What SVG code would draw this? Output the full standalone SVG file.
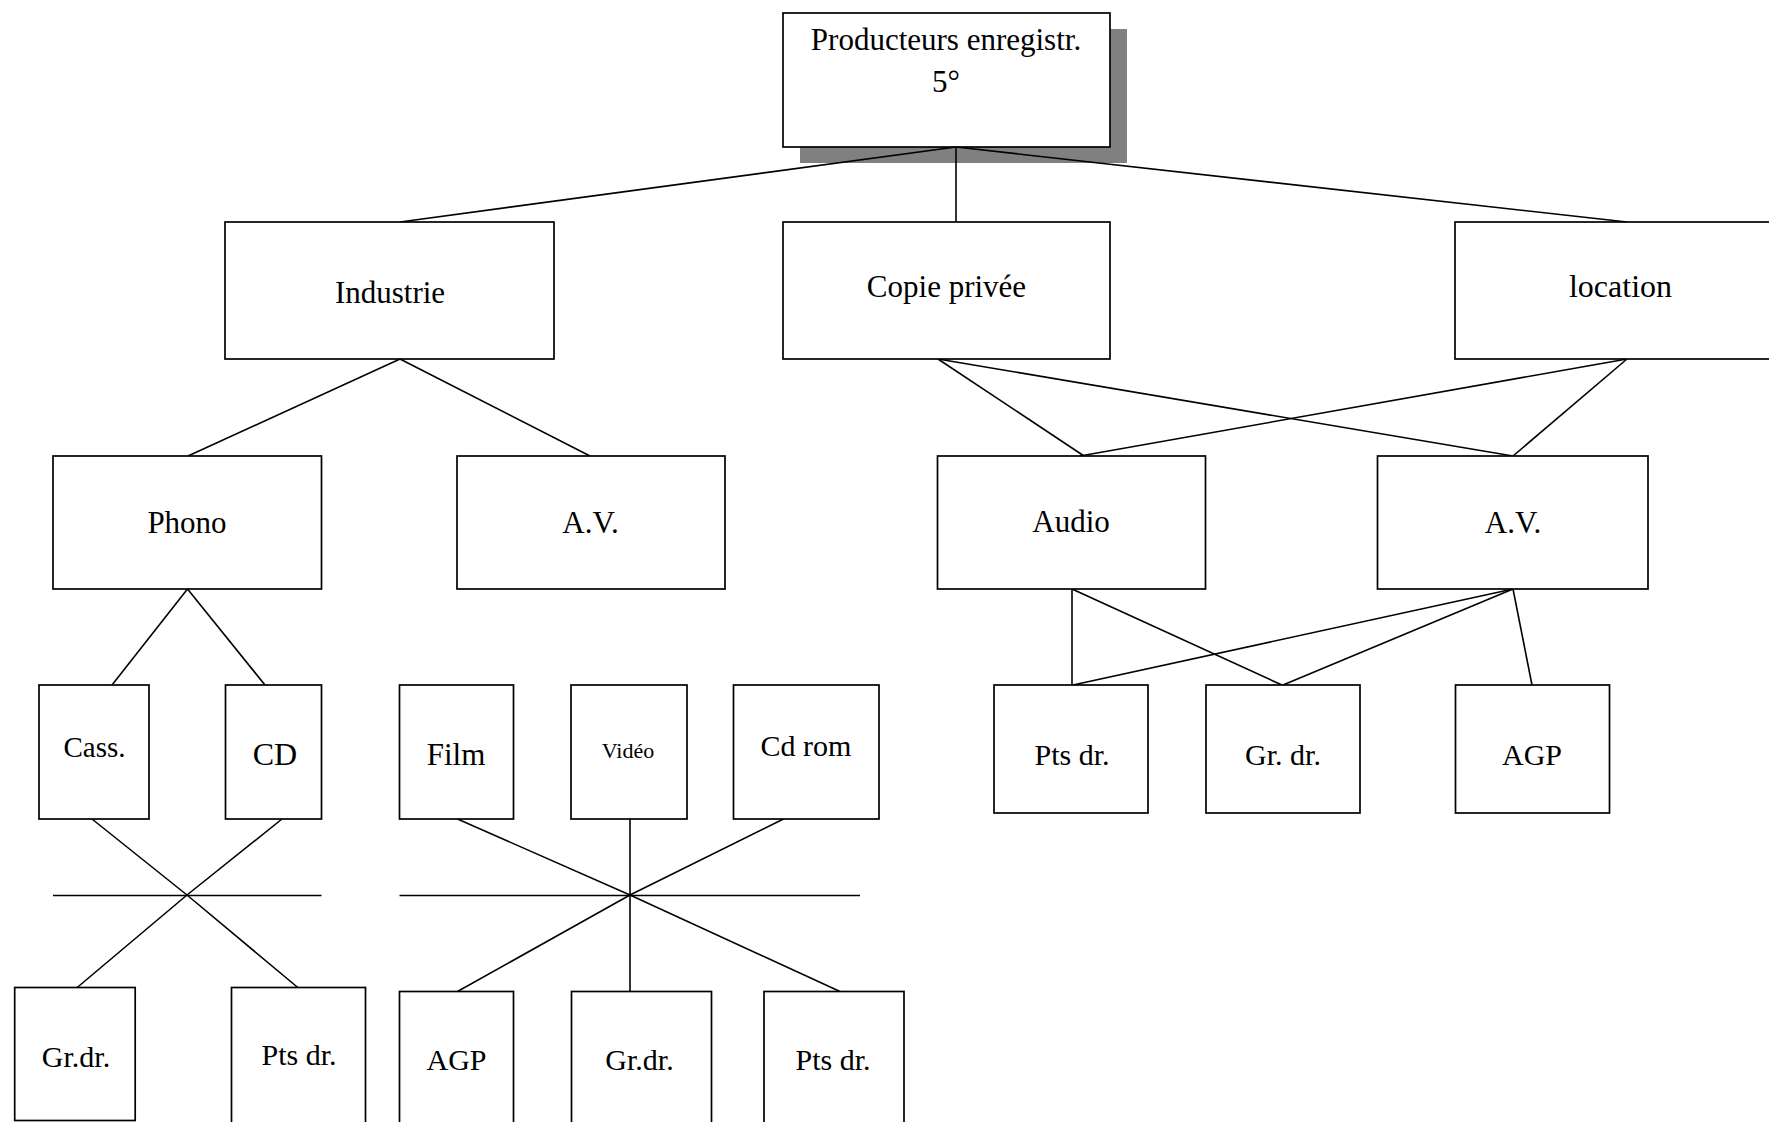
<svg xmlns="http://www.w3.org/2000/svg" width="1769" height="1122" viewBox="0 0 1769 1122">
<style>
.box{fill:#fff;stroke:#000;stroke-width:1.7}
.shadow{fill:#808080;stroke:none}
.lbl{font-family:"Liberation Serif","Times New Roman",serif;font-size:31px;fill:#000;text-anchor:middle}
.conn line,.conn polyline{stroke:#000;stroke-width:1.6;fill:none}
</style>
<rect width="1769" height="1122" fill="#fff"/>
<g id="producteurs">
<rect class="shadow" x="800" y="29" width="327" height="134"/>
<rect class="box" x="783" y="13" width="327" height="134"/>
<text class="lbl" x="946" y="50">Producteurs enregistr.</text>
<text class="lbl" x="946" y="92">5°</text>
</g>
<g id="connectors" class="conn">
<line x1="956" y1="147" x2="400" y2="222"/>
<line x1="956" y1="147" x2="956" y2="222"/>
<line x1="956" y1="147" x2="1627" y2="222"/>
<line x1="400" y1="359" x2="188" y2="456"/>
<line x1="400" y1="359" x2="590" y2="456"/>
<line x1="938" y1="359" x2="1084" y2="456"/>
<line x1="938" y1="359" x2="1513" y2="456"/>
<line x1="1627" y1="359" x2="1080" y2="456"/>
<line x1="1627" y1="359" x2="1513" y2="456"/>
<line x1="187.5" y1="589" x2="112" y2="685"/>
<line x1="187.5" y1="589" x2="265" y2="685"/>
<line x1="1072" y1="589" x2="1072" y2="685"/>
<line x1="1072" y1="589" x2="1282" y2="685"/>
<line x1="1513" y1="589" x2="1073" y2="685"/>
<line x1="1513" y1="589" x2="1283" y2="685"/>
<line x1="1513" y1="589" x2="1532" y2="685"/>
<polyline points="92,819 187,895 302,991"/>
<polyline points="282,819 187,895 73,991"/>
<line x1="53" y1="895.5" x2="321.5" y2="895.5"/>
<line x1="399.5" y1="895.5" x2="860" y2="895.5"/>
<polyline points="457.5,819 630,895 840,991.5"/>
<line x1="630" y1="819" x2="630" y2="991.5"/>
<polyline points="783.5,819 630,895 457.5,991.5"/>
</g>
<g id="industrie"><rect class="box" x="225" y="222" width="329" height="137"/><text class="lbl" x="390" y="303">Industrie</text></g>
<g id="copie-privee"><rect class="box" x="783" y="222" width="327" height="137"/><text class="lbl" x="946.5" y="297">Copie privée</text></g>
<g id="location"><rect class="box" x="1455" y="222" width="330" height="137"/><text class="lbl" x="1620.5" y="297" style="font-size:32px">location</text></g>
<g id="phono"><rect class="box" x="53" y="456" width="268.5" height="133"/><text class="lbl" x="187" y="533">Phono</text></g>
<g id="av-industrie"><rect class="box" x="457" y="456" width="268" height="133"/><text class="lbl" x="590.5" y="533">A.V.</text></g>
<g id="audio"><rect class="box" x="937.5" y="456" width="268" height="133"/><text class="lbl" x="1071" y="532">Audio</text></g>
<g id="av-copie"><rect class="box" x="1377.5" y="456" width="270.5" height="133"/><text class="lbl" x="1513" y="533">A.V.</text></g>
<g id="cass"><rect class="box" x="39" y="685" width="110" height="134"/><text class="lbl" x="94.5" y="757" style="font-size:29px">Cass.</text></g>
<g id="cd"><rect class="box" x="225.5" y="685" width="96" height="134"/><text class="lbl" x="275" y="765" style="font-size:32px">CD</text></g>
<g id="film"><rect class="box" x="399.5" y="685" width="114" height="134"/><text class="lbl" x="456" y="765">Film</text></g>
<g id="video"><rect class="box" x="571" y="685" width="116" height="134"/><text class="lbl" x="628" y="758" style="font-size:22px">Vidéo</text></g>
<g id="cdrom"><rect class="box" x="733.5" y="685" width="145.5" height="134"/><text class="lbl" x="806" y="756" style="font-size:30px">Cd rom</text></g>
<g id="pts-dr-cp"><rect class="box" x="994" y="685" width="154" height="128"/><text class="lbl" x="1072" y="765" style="font-size:30px">Pts dr.</text></g>
<g id="gr-dr-cp"><rect class="box" x="1206" y="685" width="154" height="128"/><text class="lbl" x="1283" y="765" style="font-size:30px">Gr. dr.</text></g>
<g id="agp-cp"><rect class="box" x="1455.5" y="685" width="154" height="128"/><text class="lbl" x="1532" y="765" style="font-size:30px">AGP</text></g>
<g id="gr-dr-phono"><rect class="box" x="14.7" y="987.5" width="120.5" height="133"/><text class="lbl" x="76" y="1067" style="font-size:30px">Gr.dr.</text></g>
<g id="pts-dr-phono"><rect class="box" x="231.5" y="987.5" width="134" height="145"/><text class="lbl" x="299" y="1065" style="font-size:30px">Pts dr.</text></g>
<g id="agp-av"><rect class="box" x="399.5" y="991.5" width="114" height="145"/><text class="lbl" x="456.5" y="1070" style="font-size:30px">AGP</text></g>
<g id="gr-dr-av"><rect class="box" x="571.5" y="991.5" width="140" height="145"/><text class="lbl" x="639.5" y="1070" style="font-size:30px">Gr.dr.</text></g>
<g id="pts-dr-av"><rect class="box" x="764" y="991.5" width="140" height="145"/><text class="lbl" x="833" y="1070" style="font-size:30px">Pts dr.</text></g>
</svg>
